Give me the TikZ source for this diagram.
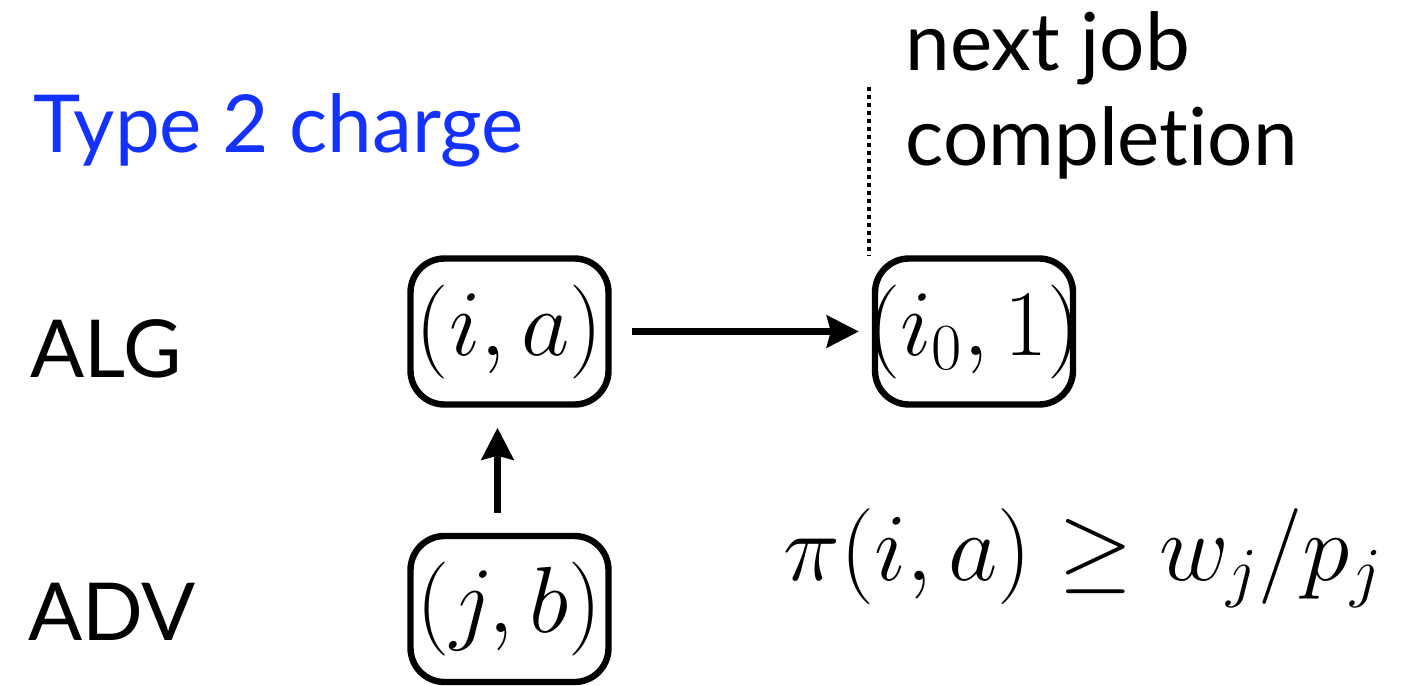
\RequirePackage{fix-cm}
\documentclass[tikz,border=0pt]{standalone}
\usepackage{fontspec}
\setmainfont{Lato}[Ligatures=NoCommon]
\usetikzlibrary{arrows.meta,calc}
\definecolor{typeblue}{RGB}{20,50,255}
\begin{document}
\begin{tikzpicture}[x=0.5pt,y=-0.5pt,
  lbl/.style={font=\fontsize{40}{48}\selectfont, anchor=base west, inner sep=0},
  statebox/.style={draw, line width=3.2pt, rounded corners=17pt, minimum width=99pt, minimum height=73pt, inner sep=0, font=\fontsize{47}{56}\selectfont},
  conn/.style={line width=3.2pt, -{Stealth[length=16pt,width=16pt,inset=2pt]}},
  dotline/.style={line width=1.6pt, dash pattern=on 2pt off 2pt}]
\useasboundingbox (0,0) rectangle (1411,685);

\node[lbl, text=typeblue] (title) at (33,152) {Type 2 charge};
\node[lbl] (alg) at (30,377) {ALG};
\node[lbl] (adv) at (28,640) {ADV};
\node[lbl] (next1) at (905,70) {next job};
\node[lbl] (next2) at (905,165) {completion};

\node[statebox] (ia) at (509.5,331.5) {\makebox[0pt]{$(i,a)$}};
\node[statebox] (io) at (974,331.5) {\makebox[0pt]{$(i_0,1)$}};
\node[statebox] (jb) at (509.5,609) {\makebox[0pt]{$(j,b)$}};

\node[anchor=base west, inner sep=0, font=\fontsize{48}{58}\selectfont] (ineq) at (783,580) {$\pi(i,a)\geq w_j/p_j$};

\coordinate (dtop) at (869,87);
\draw[dotline] (dtop) -- (dtop |- io.north);

\draw[conn] ($(ia.east)+(20,0)$) -- ($(io.west)+(-13,0)$);
\draw[conn] ($(jb.north)+(-12,-20)$) -- ($(ia.south)+(-12,20)$);
\end{tikzpicture}
\end{document}
